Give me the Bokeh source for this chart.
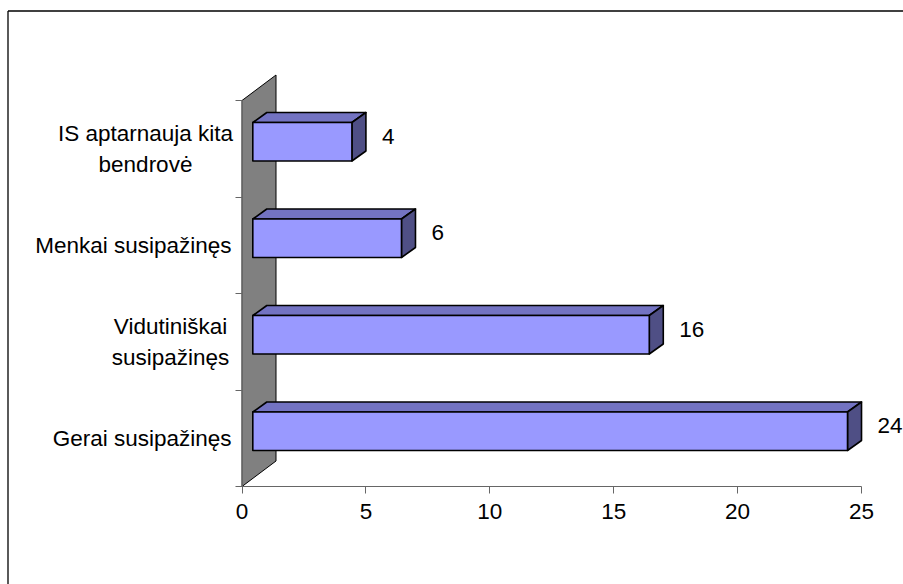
from bokeh.plotting import figure
from bokeh.models import LinearAxis, FixedTicker, Range1d, ColumnDataSource, LabelSet
from bokeh.core.properties import value
from bokeh.embed import file_html
from bokeh.resources import INLINE

# ---- data ----
categories = ["IS aptarnauja kita\nbendrovė", "Menkai susipažinęs",
              "Vidutiniškai\nsusipažinęs", "Gerai susipažinęs"]
values = [4, 6, 16, 24]
x_ticks = [0, 5, 10, 15, 20, 25]
x_max = 25

# ---- layout (pixels) ----
W, H = 903, 584
LEFT, TOP = 5, 8           # frame inset
BORDER_X, BORDER_Y = 7.5, 10.5
SX, X0 = 24.78, 241.5      # px per unit, screen x of value 0
SY, Y0 = 96.5, 486.0       # px per category, screen y of axis

FONT = "Liberation Sans"
FS = "22.5px"

FRONT = "#9999FF"
TOPC = "#7373C2"
SIDE = "#4F4F85"

# centre (px) of multi-line label blocks, right edge (px) of single-line labels
LABEL_CENTER = [145, None, 170, None]
LABEL_RIGHT = 231
LINE_GAP = 31              # px between lines

n = len(categories)
# 3D geometry in data units
DX0 = 10.8 / SX            # front face shift of bars
BDX, BDY = 14 / SX, 10 / SY
FACE_H = 38.5 / SY
FACE_SHIFT = 7 / SY
WDX, WDY = 34 / SX, 25.5 / SY

xr = Range1d((LEFT - X0) / SX, (W - X0) / SX)
yr = Range1d(-(H - Y0) / SY, (Y0 - TOP) / SY)
p = figure(width=W, height=H, output_backend="svg", toolbar_location=None,
           x_axis_type=None, y_axis_type=None, x_range=xr, y_range=yr,
           min_border_left=LEFT, min_border_top=TOP,
           min_border_right=0, min_border_bottom=0)
p.outline_line_color = None
p.background_fill_color = "white"
p.border_fill_color = "white"

# outer border (left / top)
bx = (BORDER_X - X0) / SX
by = (Y0 - BORDER_Y) / SY
p.segment(x0=[bx, bx], y0=[yr.start, by], x1=[bx, xr.end], y1=[by, by],
          line_color="black", line_width=1.3)

# wall
p.patch([0, WDX, WDX, 0], [0, WDY, n + WDY, n],
        fill_color="#808080", line_color="black", line_width=1)

# bars
yc = [n - 1 - i + 0.5 for i in range(n)]
left = [DX0] * n
right = [v + DX0 for v in values]
bottom = [c + FACE_SHIFT - FACE_H / 2 for c in yc]
top = [c + FACE_SHIFT + FACE_H / 2 for c in yc]

top_xs = [[l, r, r + BDX, l + BDX] for l, r in zip(left, right)]
top_ys = [[t, t, t + BDY, t + BDY] for t in top]
side_xs = [[r, r + BDX, r + BDX, r] for r in right]
side_ys = [[b, b + BDY, t + BDY, t] for b, t in zip(bottom, top)]

p.patches(top_xs, top_ys, fill_color=TOPC, line_color="black", line_width=1.6,
          line_join="round")
p.patches(side_xs, side_ys, fill_color=SIDE, line_color="black", line_width=1.6,
          line_join="round")
p.quad(left=left, right=right, bottom=bottom, top=top, fill_color=FRONT,
       line_color="black", line_width=1.6, line_join="round")

# value labels
lab_src = ColumnDataSource(dict(x=right, y=yc, text=[str(v) for v in values]))
p.add_layout(LabelSet(x="x", y="y", text="text", source=lab_src,
                      x_offset=30, y_offset=12.5,
                      text_font=value(FONT), text_font_size=value(FS),
                      text_color="black",
                      text_align="left", text_baseline="middle"))

# category labels: one entry per text line, lines centred within a block
cx, cy, ct, ca, cxo, cyo = [], [], [], [], [], []
for cat, c, cen in zip(categories, yc, LABEL_CENTER):
    lines = cat.split("\n")
    k = len(lines)
    for j, line in enumerate(lines):
        cx.append(0)
        cy.append(c)
        ct.append(line)
        if cen is None:
            ca.append("right")
            cxo.append(LABEL_RIGHT - X0)
        else:
            ca.append("center")
            cxo.append(cen - X0)
        cyo.append(((k - 1) / 2 - j) * LINE_GAP)
cat_src = ColumnDataSource(dict(x=cx, y=cy, text=ct, align=ca, xoff=cxo, yoff=cyo))
p.add_layout(LabelSet(x="x", y="y", text="text", source=cat_src,
                      x_offset="xoff", y_offset="yoff", text_align="align",
                      text_font=value(FONT), text_font_size=value(FS),
                      text_color="black", text_baseline="middle"))

# x axis
xaxis = LinearAxis(fixed_location=0, bounds=(0, x_max),
                   ticker=FixedTicker(ticks=x_ticks, minor_ticks=[]),
                   axis_line_color="#666666", major_tick_line_color="#666666",
                   major_tick_out=7, major_tick_in=0,
                   minor_tick_line_color=None,
                   major_label_text_font=FONT, major_label_text_font_size=FS,
                   major_label_text_color="black", major_label_standoff=10)
p.add_layout(xaxis, "below")

# y axis (tick marks at category boundaries)
yaxis = LinearAxis(fixed_location=0, bounds=(0, n),
                   ticker=FixedTicker(ticks=list(range(n + 1)), minor_ticks=[]),
                   axis_line_color="#666666",
                   major_tick_line_color="#666666", major_tick_out=7, major_tick_in=0,
                   minor_tick_line_color=None,
                   major_label_overrides={k: "" for k in range(n + 1)},
                   major_label_text_font_size="1px")
p.add_layout(yaxis, "left")

open("out.html", "w").write(file_html(p, INLINE))
